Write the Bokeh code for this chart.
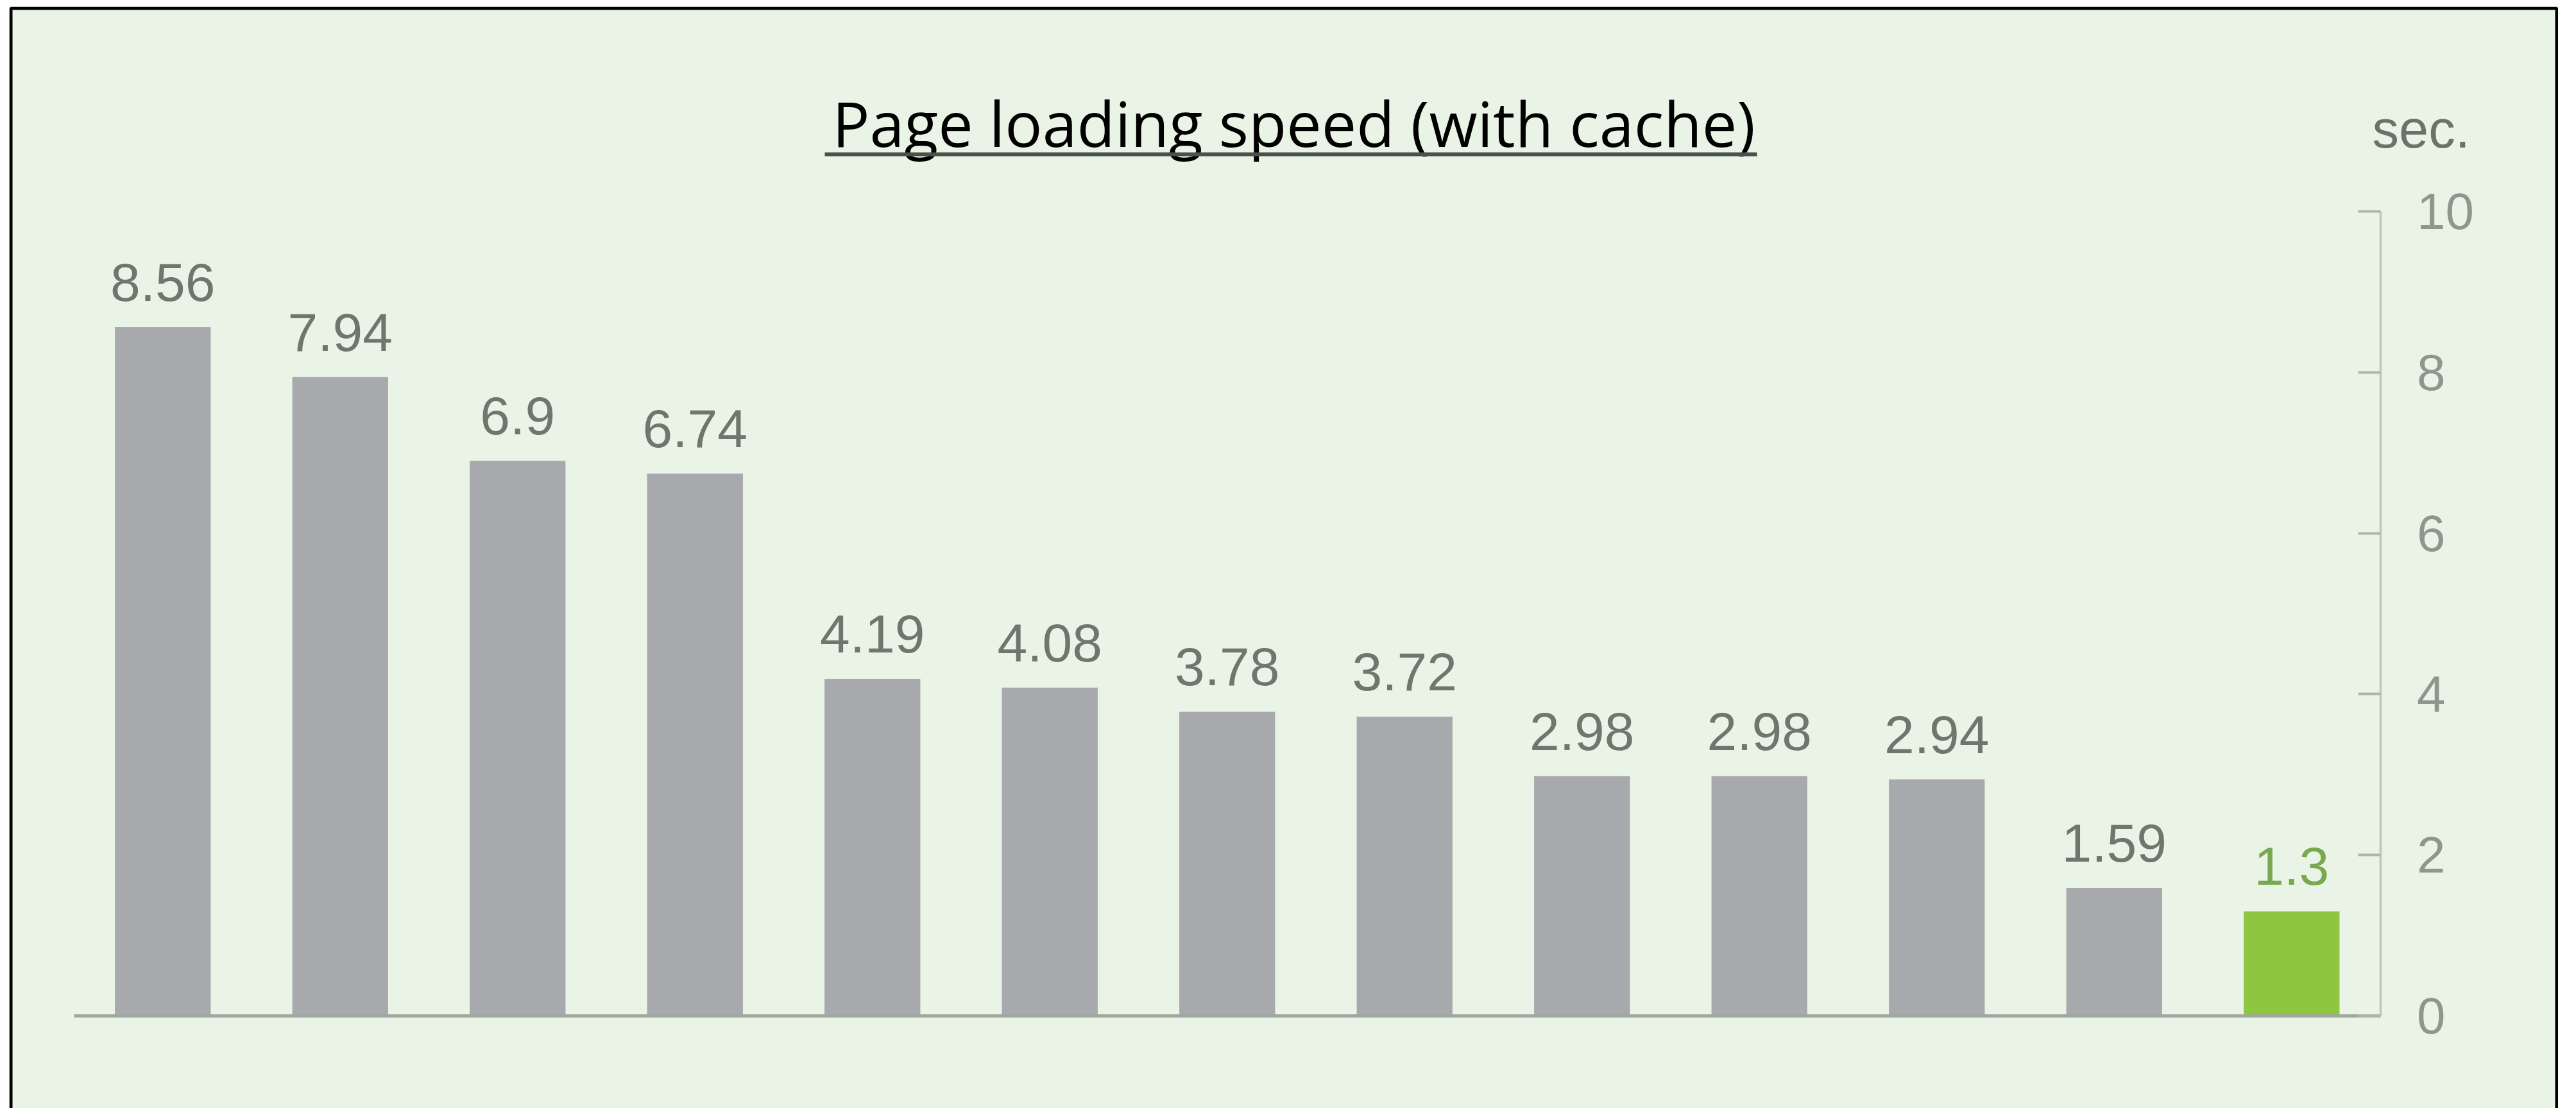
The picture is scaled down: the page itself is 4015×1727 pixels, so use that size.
from bokeh.plotting import figure
from bokeh.models import Range1d, FixedTicker, Label, BoxAnnotation, ColumnDataSource
from bokeh.core.properties import value
from bokeh.embed import file_html
from bokeh.resources import INLINE

# ---- data ----
positions = list(range(13))
speeds = [8.56, 7.94, 6.9, 6.74, 4.19, 4.08, 3.78, 3.72, 2.98, 2.98, 2.94, 1.59, 1.3]
value_labels = ["8.56", "7.94", "6.9", "6.74", "4.19", "4.08", "3.78", "3.72",
                "2.98", "2.98", "2.94", "1.59", "1.3"]
highlight = [False] * 12 + [True]
y_ticks = [0, 2, 4, 6, 8, 10]
title_text = "Page loading speed (with cache)"
unit_text = "sec."

# ---- styles / layout ----
BG = "#EAF4E6"
BAR_GRAY = "#A8A9AD"
BAR_GREEN = "#8DC641"
LBL_GRAY = "#6E766E"
LBL_GREEN = "#78A850"

PAGE_OFF = 0                 # Bokeh's page template has no body margin
W, H = 3987, 1727
BL, BT = 14, 10              # canvas border left / top (white)
FW, FH = W - BL, H - BT      # frame size
F_LEFT, F_BOTTOM = PAGE_OFF + BL, PAGE_OFF + H   # frame edges in page px
SLOT = 276.5                 # px per category
PX_PER_UNIT = 125.4          # px per second
ZERO_PAGE_Y = 1583           # page y of the zero line
FIRST_SLOT_PAGE_X = 115      # page x where first category slot starts

X_START = -0.5 - (FIRST_SLOT_PAGE_X - F_LEFT) / SLOT
X_END = X_START + FW / SLOT
Y_START = -(F_BOTTOM - ZERO_PAGE_Y) / PX_PER_UNIT
Y_END = Y_START + FH / PX_PER_UNIT
AXIS_X = len(positions) - 0.5


def sx(page_x):
    return page_x - F_LEFT


def sy(page_y):
    return F_BOTTOM - page_y


bar_colors = [BAR_GREEN if h else BAR_GRAY for h in highlight]
label_colors = [LBL_GREEN if h else LBL_GRAY for h in highlight]

src = ColumnDataSource(dict(x=positions, top=speeds, label=value_labels,
                            fill=bar_colors, tcol=label_colors))

p = figure(width=W, height=H,
           x_range=Range1d(X_START, X_END), y_range=Range1d(Y_START, Y_END),
           output_backend="svg", toolbar_location=None,
           y_axis_location="right",
           min_border_left=BL, min_border_right=0,
           min_border_top=BT, min_border_bottom=0,
           background_fill_color=BG, border_fill_color="#FFFFFF",
           outline_line_color=None)
p.grid.visible = False

# right value axis, placed just right of the last bar slot
ax = p.yaxis[0]
ax.fixed_location = AXIS_X
ax.bounds = (0, 10)
ax.ticker = FixedTicker(ticks=y_ticks)
ax.major_tick_in = 35
ax.major_tick_out = 0
ax.minor_tick_line_color = None
ax.axis_line_color = "#C3C9C1"
ax.axis_line_width = 4
ax.major_tick_line_color = "#AEB5AC"
ax.major_tick_line_width = 4
ax.major_label_standoff = 57
ax.major_label_text_font = "Liberation Sans"
ax.major_label_text_font_size = "80px"
ax.major_label_text_color = "#8E968E"

# baseline (x axis at zero without ticks/labels)
xa = p.xaxis[0]
xa.fixed_location = 0
xa.bounds = (-0.5, AXIS_X)
xa.ticker = FixedTicker(ticks=[])
xa.major_label_text_font_size = "0px"
xa.major_tick_line_color = None
xa.minor_tick_line_color = None
xa.axis_line_color = "#9FA79E"
xa.axis_line_width = 5

# bars + value labels
p.vbar(x="x", top="top", bottom=0, width=0.54, fill_color="fill",
       line_color=None, source=src)
p.text(x="x", y="top", text="label", text_color="tcol", text_align="center",
       text_baseline="alphabetic", y_offset=-70,
       text_font=value("Liberation Sans"), text_font_size="84px", source=src)

# title with underline
p.add_layout(Label(x=sx(2016), y=sy(222) + 32, x_units="screen", y_units="screen",
                   text=title_text, text_font="Open Sans", text_font_size="97px",
                   text_color="#000000", text_align="center",
                   text_baseline="alphabetic"))
p.add_layout(BoxAnnotation(left=sx(1285), right=sx(2738), bottom=sy(243), top=sy(237),
                           left_units="screen", right_units="screen",
                           bottom_units="screen", top_units="screen",
                           fill_color="#4A504A", fill_alpha=1.0, line_color=None))

# unit label
p.add_layout(Label(x=sx(3697), y=sy(228) + 27, x_units="screen", y_units="screen",
                   text=unit_text, text_font="Liberation Sans", text_font_size="83px",
                   text_color="#6A726A", text_align="left",
                   text_baseline="alphabetic"))

# chart frame border (left, top, right; bottom edge runs off the page)
p.add_layout(BoxAnnotation(left=2.5, right=FW - 2.5, top=FH - 2.5, bottom=-40,
                           left_units="screen", right_units="screen",
                           bottom_units="screen", top_units="screen",
                           fill_alpha=0.0, line_color="#000000", line_alpha=1.0,
                           line_width=5))

open("out.html", "w").write(file_html(p, INLINE))
